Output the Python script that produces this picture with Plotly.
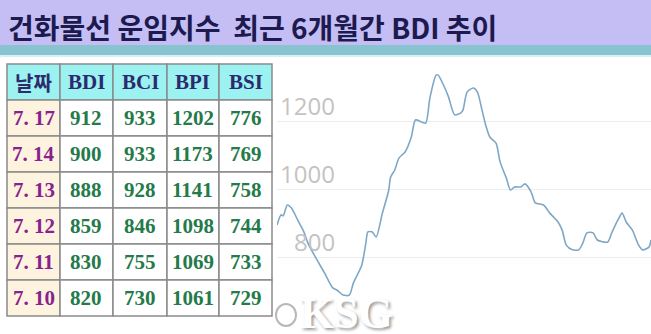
import plotly.graph_objects as go

W, H = 651, 334

# ---- data ----
title_text = "건화물선 운임지수  최근 6개월간 BDI 추이"
header = ["날짜", "BDI", "BCI", "BPI", "BSI"]
dates = ["7. 17", "7. 14", "7. 13", "7. 12", "7. 11", "7. 10"]
bdi = [912, 900, 888, 859, 830, 820]
bci = [933, 933, 928, 846, 755, 730]
bpi = [1202, 1173, 1141, 1098, 1069, 1061]
bsi = [776, 769, 758, 744, 733, 729]

# BDI trend over ~6 months (day offset, index value)
trend_day = [0, 2, 3, 5, 7, 10, 13, 15, 18, 23, 27, 29, 32, 35, 37, 41, 43, 44, 46, 48,
             51, 54, 55, 57, 59, 62, 65, 67, 70, 72, 74, 77, 78, 81, 83, 86, 89, 90, 92, 95,
             97, 99, 101, 103, 106, 108, 111, 113, 115, 118, 120, 123, 125, 129, 132, 136,
             138, 140, 143, 146, 148, 150, 153, 155, 160, 162, 165, 167, 169, 172, 175,
             177, 180, 181]
trend_val = [894, 924, 921, 953, 944, 909, 874, 841, 806, 753, 709, 703, 688, 688, 724, 776,
             841, 874, 874, 859, 929, 994, 1035, 1056, 1091, 1109, 1153, 1203, 1197, 1194,
             1268, 1335, 1335, 1300, 1271, 1218, 1224, 1232, 1285, 1297, 1285, 1238, 1188,
             1153, 1135, 1079, 1032, 997, 1006, 1006, 1015, 991, 959, 953, 929, 903, 879,
             835, 821, 821, 841, 871, 871, 850, 844, 871, 909, 929, 903, 879, 835, 821, 829,
             850]
y_ticks = [800, 1000, 1200]

fig = go.Figure()

# line chart
fig.add_trace(go.Scatter(
    x=trend_day, y=trend_val, mode="lines",
    line=dict(color="#7ea7c6", width=1.6, shape="spline", smoothing=0.7),
    hoverinfo="skip", showlegend=False,
))

# y range: 800 at px 257, 1200 at px 121 ; plot area px 55..334
top_px = 55
ppu = (257 - 121) / 400.0
y_top = 1200 + (121 - top_px) / ppu
y_bot = 800 - (H - 257) / ppu

fig.update_layout(
    width=W, height=H,
    margin=dict(l=0, r=0, t=0, b=0),
    paper_bgcolor="white", plot_bgcolor="white",
    xaxis=dict(domain=[277 / W, 1], range=[0, 181], showgrid=False, showticklabels=False,
               zeroline=False, showline=False, fixedrange=True),
    yaxis=dict(domain=[0, 1 - top_px / H], range=[y_bot, y_top], tickvals=y_ticks,
               showticklabels=False, gridcolor="#ececec", gridwidth=1,
               zeroline=False, showline=False, fixedrange=True),
    showlegend=False,
)

# y tick labels (inside, above gridlines)
for v in y_ticks:
    fig.add_annotation(
        x=337 / W, xref="paper", xanchor="right",
        y=v, yref="y", yanchor="bottom", yshift=-3,
        text=str(v), showarrow=False,
        font=dict(family="Open Sans", size=24, color="#c3c3c3"),
    )

# ---- table (drawn with shapes + annotations) ----
col_x = [7, 60, 113, 167, 219, 272]
row_top = 64
row_h = 36
columns = [dates, bdi, bci, bpi, bsi]
n_rows = len(dates) + 1


def px(x):
    return x / W


def py(y):
    return 1 - y / H


for r in range(n_rows):
    y0 = row_top + r * row_h
    y1 = y0 + row_h
    for c in range(len(header)):
        x0, x1 = col_x[c], col_x[c + 1]
        if r == 0:
            fill = "#9cf1f1"
            txt = header[c]
            fam = "Noto Sans CJK KR" if c == 0 else "Liberation Serif"
            col = "#2b2b6e"
            size = 20 if c == 0 else 21
        else:
            fill = "#fdf3de" if c == 0 else "#ffffff"
            txt = str(columns[c][r - 1])
            fam = "Liberation Serif"
            col = "#8a1f8e" if c == 0 else "#247a4a"
            size = 21
        fig.add_shape(type="rect", xref="paper", yref="paper",
                      x0=px(x0), x1=px(x1), y0=py(y1), y1=py(y0),
                      fillcolor=fill, line=dict(color="#8a8a8a", width=1.5))
        fig.add_annotation(
            x=px((x0 + x1) / 2), xref="paper", xanchor="center",
            y=py((y0 + y1) / 2), yref="paper", yanchor="middle",
            text="<b>%s</b>" % txt, showarrow=False,
            font=dict(family=fam, size=size, color=col),
        )

# title bar
fig.add_shape(type="rect", xref="paper", yref="paper", x0=0, x1=1,
              y0=1 - 45 / H, y1=1, fillcolor="#c4bef4", line_width=0, layer="below")
fig.add_shape(type="rect", xref="paper", yref="paper", x0=0, x1=1,
              y0=1 - 55 / H, y1=1 - 45 / H, fillcolor="#88c4d0", line_width=0, layer="below")
fig.add_shape(type="rect", xref="paper", yref="paper", x0=0, x1=1,
              y0=1 - 57 / H, y1=1 - 55 / H, fillcolor="#d9f0f3", line_width=0, layer="below")
fig.add_annotation(
    x=6 / W, xref="paper", xanchor="left", y=1 - 27 / H, yref="paper", yanchor="middle",
    text="<b>%s</b>" % title_text, showarrow=False,
    font=dict(family="Noto Sans CJK KR", size=28, color="#1c1a4e", weight=900),
)

# watermark
fig.add_shape(type="circle", xref="paper", yref="paper",
              x0=276 / W, x1=296 / W, y0=1 - 326 / H, y1=1 - 304 / H,
              line=dict(color="#b8b8b8", width=2), fillcolor="rgba(255,255,255,0.6)")
fig.add_annotation(
    x=298 / W, xref="paper", xanchor="left", y=1 - 313 / H, yref="paper", yanchor="middle",
    text="<b>KSG</b>", showarrow=False,
    font=dict(family="Liberation Serif", size=44, color="#ffffff",
              shadow="2px 2px 3px #9a9a9a"),
)

fig.write_html("out.html")
